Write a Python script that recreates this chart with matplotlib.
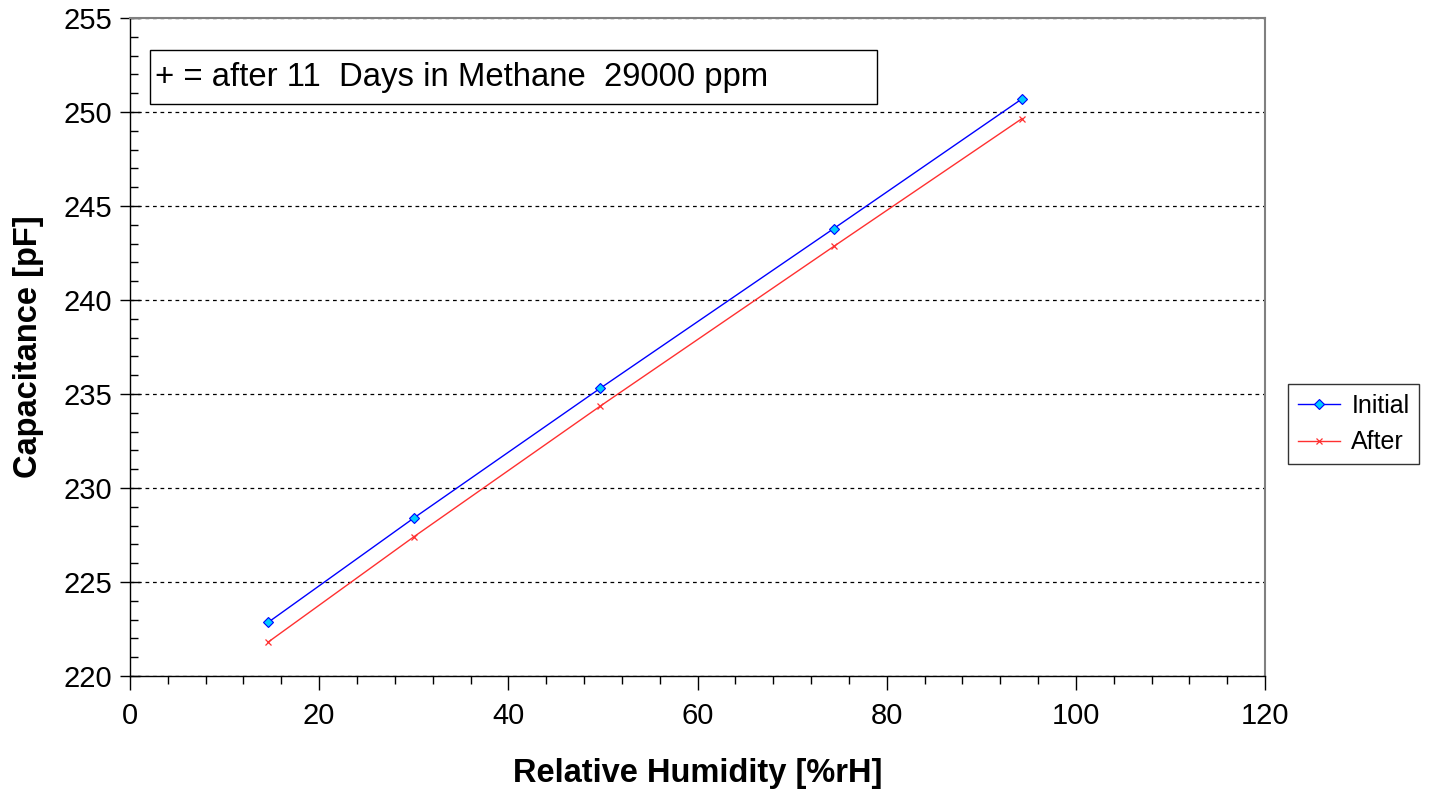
import matplotlib.pyplot as plt
from matplotlib.patches import Rectangle
from matplotlib.ticker import MultipleLocator

plt.rcParams['font.family'] = ['Liberation Sans', 'DejaVu Sans']

# readings
humidity = [14.6, 30.0, 49.7, 74.4, 94.3]
initial = [222.85, 228.4, 235.3, 243.8, 250.7]
after = [221.8, 227.4, 234.35, 242.85, 249.65]

fig = plt.figure(figsize=(14.41, 7.98), dpi=100)
ax = fig.add_axes([0.0902, 0.1529, 0.7877, 0.8245])

ax.plot(humidity, initial, color='#0000ff', lw=1.0, marker='D', ms=5,
        mfc='#00ccff', mec='#0000ff', mew=0.8, label='Initial', zorder=3)
ax.plot(humidity, after, color='#ff3030', lw=1.0, marker='x', ms=5,
        mew=0.9, label='After', zorder=3)

ax.set_xlim(0, 120)
ax.set_ylim(220, 255)
ax.xaxis.set_major_locator(MultipleLocator(20))
ax.xaxis.set_minor_locator(MultipleLocator(4))
ax.yaxis.set_major_locator(MultipleLocator(5))
ax.yaxis.set_minor_locator(MultipleLocator(1))

ax.tick_params(axis='x', which='major', direction='out', length=10, width=1, labelsize=21, pad=9)
ax.tick_params(axis='x', which='minor', direction='out', length=6, width=1)
ax.tick_params(axis='y', which='major', direction='inout', length=14, width=1, labelsize=21, pad=6)
ax.tick_params(axis='y', which='minor', direction='in', length=6, width=1)

ax.yaxis.grid(True, which='major', color='black', linestyle=(0, (3, 3)), linewidth=0.9)
ax.set_axisbelow(True)

for s in ['top', 'right']:
    ax.spines[s].set_color('#808080')
    ax.spines[s].set_linewidth(1.5)
for s in ['left', 'bottom']:
    ax.spines[s].set_color('black')
    ax.spines[s].set_linewidth(1)

ax.set_xlabel('Relative Humidity [%rH]', fontsize=23.5, fontweight='bold', labelpad=20)
ax.set_ylabel('Capacitance [pF]', fontsize=23.5, fontweight='bold', labelpad=14)

# annotation box
ax.add_patch(Rectangle((0.0176, 0.8693), 0.6405, 0.0821, transform=ax.transAxes,
                       facecolor='white', edgecolor='black', lw=1, zorder=4))
ax.text(0.022, 0.9103, '+ = after 11  Days in Methane  29000 ppm', transform=ax.transAxes,
        fontsize=23.7, va='center', ha='left', zorder=5)

leg = fig.legend(loc='center left', bbox_to_anchor=(0.8935, 0.4685), fontsize=18,
                 frameon=True, fancybox=False, edgecolor='black', handlelength=1.7,
                 handletextpad=0.45, borderpad=0.4, labelspacing=0.5, borderaxespad=0)
leg.get_frame().set_linewidth(1)

fig.savefig('out.png', dpi=100)
